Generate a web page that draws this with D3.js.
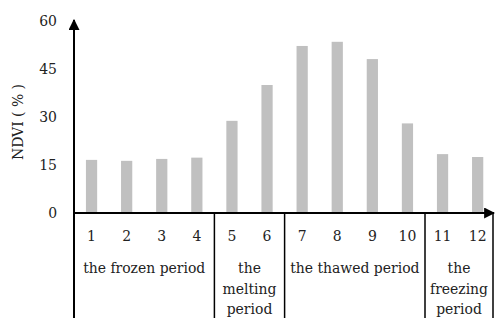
<!DOCTYPE html>
<html>
<head>
<meta charset="utf-8">
<script src="https://cdn.jsdelivr.net/npm/d3@7"></script>
<style>
  body { margin: 0; background: #fff; }
</style>
</head>
<body>
<div id="chart"></div>
<script>
const months = ["1", "2", "3", "4", "5", "6", "7", "8", "9", "10", "11", "12"];
const ndvi = [16.6, 16.3, 16.9, 17.3, 28.8, 40.0, 52.2, 53.5, 48.1, 28.0, 18.4, 17.5];
const yTicks = [0, 15, 30, 45, 60];
const periods = [
  { name: ["the frozen period"], from: 0, to: 4 },
  { name: ["the", "melting", "period"], from: 4, to: 6 },
  { name: ["the thawed period"], from: 6, to: 10 },
  { name: ["the", "freezing", "period"], from: 10, to: 12 }
];

const W = 496, H = 318;
const left = 74, right = 495, zeroY = 213;
const serif = "'DejaVu Serif Condensed', 'DejaVu Serif', serif";
const fs = 15.5;

const svg = d3.select("#chart").append("svg")
  .attr("width", W).attr("height", H);

const defs = svg.append("defs");
defs.append("marker")
  .attr("id", "arrow").attr("viewBox", "0 0 10 10")
  .attr("refX", 9).attr("refY", 5)
  .attr("markerWidth", 5.5).attr("markerHeight", 5.5)
  .attr("markerUnits", "strokeWidth")
  .attr("orient", "auto")
  .append("path").attr("d", "M0,0 L10,5 L0,10 Z").attr("fill", "#000");

var x = d3.scaleBand().domain(months).range([left, left + 12 * 35.1]).paddingInner(0.68).paddingOuter(0.34);
var y = d3.scaleLinear().domain([0, 60]).range([zeroY, 21]);

// bars
svg.selectAll("rect.bar")
  .data(ndvi)
  .enter().append("rect")
  .attr("class", "bar")
  .attr("x", (d, i) => x(months[i]))
  .attr("width", x.bandwidth())
  .attr("y", d => y(d))
  .attr("height", d => y(0) - y(d))
  .attr("fill", "#c0c0c0");

// y tick labels
svg.selectAll("text.ytick")
  .data(yTicks)
  .enter().append("text")
  .attr("class", "ytick")
  .attr("x", 57)
  .attr("y", d => y(d) + 5)
  .attr("text-anchor", "end")
  .attr("font-family", serif)
  .attr("font-stretch", "condensed")
  .attr("font-size", fs)
  .attr("fill", "#222")
  .text(d => d);

// y axis (arrow at top, runs down through the period boxes)
svg.append("line")
  .attr("x1", left).attr("x2", left)
  .attr("y1", H).attr("y2", y(60) - 1)
  .attr("stroke", "#000").attr("stroke-width", 2)
  .attr("marker-end", "url(#arrow)");

// x axis
svg.append("line")
  .attr("x1", left).attr("x2", right - 1)
  .attr("y1", zeroY).attr("y2", zeroY)
  .attr("stroke", "#000").attr("stroke-width", 2)
  .attr("marker-end", "url(#arrow)");

// month labels
svg.selectAll("text.month")
  .data(months)
  .enter().append("text")
  .attr("class", "month")
  .attr("x", d => x(d) + x.bandwidth() / 2)
  .attr("y", 241)
  .attr("text-anchor", "middle")
  .attr("font-family", serif)
  .attr("font-stretch", "condensed")
  .attr("font-size", fs)
  .attr("fill", "#222")
  .text(d => d);

// period dividers
const step = x.step();
const edge = i => left + i * step;
const dividers = [4, 6, 10];
svg.selectAll("line.div")
  .data(dividers)
  .enter().append("line")
  .attr("class", "div")
  .attr("x1", d => edge(d)).attr("x2", d => edge(d))
  .attr("y1", zeroY).attr("y2", H)
  .attr("stroke", "#000").attr("stroke-width", 1.5);

svg.append("line")
  .attr("x1", 493).attr("x2", 493)
  .attr("y1", zeroY).attr("y2", H)
  .attr("stroke", "#000").attr("stroke-width", 1.5);

// period labels
periods.forEach(p => {
  const cx = (edge(p.from) + Math.min(edge(p.to), 493)) / 2;
  const t = svg.append("text")
    .attr("text-anchor", "middle")
    .attr("font-family", serif)
    .attr("font-stretch", "condensed")
    .attr("font-size", fs)
    .attr("fill", "#222");
  p.name.forEach((line, i) => {
    t.append("tspan").attr("x", cx).attr("y", 273 + i * 20.5).text(line);
  });
});

// y axis title
svg.append("text")
  .attr("transform", "translate(23,122) rotate(-90)")
  .attr("text-anchor", "middle")
  .attr("font-family", serif)
  .attr("font-stretch", "condensed")
  .attr("font-size", fs)
  .attr("fill", "#222")
  .text("NDVI ( % )");
</script>
</body>
</html>
